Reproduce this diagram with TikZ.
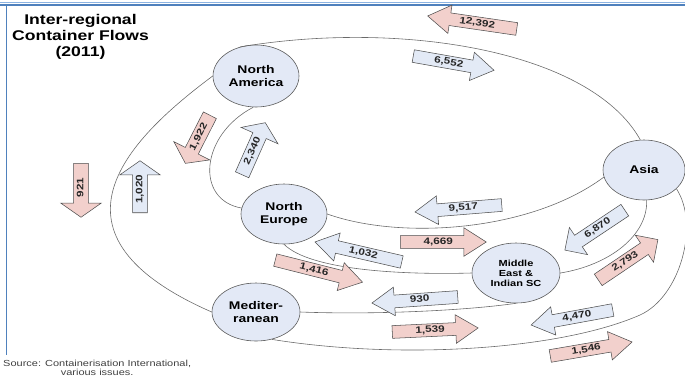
\documentclass[tikz,border=0pt]{standalone}
\usepackage{fontspec}
\setmainfont[FakeStretch=1.25]{Liberation Sans}
\usetikzlibrary{positioning}
\usetikzlibrary{shapes.geometric,shapes.arrows}
\newcommand{\PX}{0.03cm}
\newcommand{\LONGHEAD}{6.8pt}
\newcommand{\MIDHEAD}{8pt}
\newcommand{\SHORTHEAD}{11pt}
\definecolor{regionfill}{RGB}{227,233,246}
\definecolor{pinkfill}{RGB}{242,208,204}
\definecolor{bluefill}{RGB}{227,234,246}
\definecolor{linkgray}{RGB}{105,105,105}
\definecolor{framelight}{RGB}{141,180,226}
\definecolor{framedark}{RGB}{79,129,189}

\begin{document}
\begin{tikzpicture}[x=\PX,y=-\PX]
\tikzstyle{region}=[ellipse, draw=gray!70!black, line width=0.5pt, fill=regionfill, align=center, inner sep=0pt, font=\fontsize{9.5}{10.5}\selectfont\bfseries]
\tikzstyle{link}=[draw=linkgray, line width=0.5pt]
\tikzstyle{flow}=[single arrow, draw=gray!60!black, line width=0.45pt, font=\fontsize{8}{9}\selectfont\bfseries, text=black!85, text height=5.8pt, text depth=1.6pt, inner xsep=2pt, inner ysep=1.5pt, single arrow head indent=0pt, single arrow head extend=\LONGHEAD, single arrow tip angle=65, anchor=tail]
\tikzstyle{shortflow}=[flow, inner ysep=2.3pt, single arrow head extend=\SHORTHEAD, single arrow tip angle=110]
\tikzstyle{midflow}=[flow, inner ysep=2pt, single arrow head extend=\MIDHEAD, single arrow tip angle=90]
\tikzstyle{pinkflow}=[fill=pinkfill]
\tikzstyle{blueflow}=[fill=bluefill]
\tikzstyle{westward}=[shape border rotate=180]
\useasboundingbox (0,0) rectangle (685,380);

% Frame
	\draw[framelight, line width=1.3pt] (0,2.5) -- (685,2.5);
	\draw[framedark, line width=1.3pt] (0,5) -- (685,5);
	\draw[framedark, line width=1.3pt] (6.5,5) -- (6.5,355);

% Title
	\node[font=\fontsize{12}{13.7}\selectfont\bfseries, align=center] (title) at (80.5,37) {Inter-regional\\Container Flows\\(2011)};

% Regions
	\node[region, minimum width=86*\PX, minimum height=62*\PX] (na) at (256,76) {North\\America};
	\node[region, minimum width=86*\PX, minimum height=60*\PX] (ne) at (284,214) {North\\Europe};
	\node[region, minimum width=82*\PX, minimum height=60*\PX] (asia) at (644,170) {Asia};
	\node[region, minimum width=88*\PX, minimum height=60*\PX, font=\fontsize{7.5}{8.6}\selectfont\bfseries] (me) at (516,273) {Middle\\East \&\\Indian SC};
	\node[region, minimum width=88*\PX, minimum height=58*\PX] (med) at (256,312) {Mediter-\\ranean};

% Links
	\draw[link] (asia.97) .. controls (590,50) and (400,20) .. (na.119);
	\draw[link] (na.180) .. controls (124,142) and (36,235) .. (med.180);
	\draw[link] (na.265) .. controls (200,135) and (195,200) .. (ne.172);
	\draw[link] (ne.east) .. controls (400,240) and (530,232) .. (asia.190);
	\draw[link] (ne.south) .. controls (310,270) and (400,275) .. (me.west);
	\draw[link] (me.east) .. controls (610,265) and (648,235) .. (asia.275);
	\draw[link] (med.east) .. controls (380,315) and (470,310) .. (me.south);
	\draw[link] (med.300) .. controls (400,360) and (560,350) .. (640,315) .. controls (680,297) and (700,225) .. (asia.330);

% Flows
	\node[flow, pinkflow, westward, rotate=-8.3, minimum height=90*\PX] (f12392) at (517,29) {12,392};
	\node[flow, blueflow, rotate=-10, minimum height=82*\PX] (f6552) at (413,56) {6,552};
	\node[shortflow, pinkflow, westward, rotate=63, minimum height=54*\PX] (f1922) at (210,115) {1,922};
	\node[shortflow, blueflow, rotate=66, minimum height=57*\PX] (f2340) at (242,175) {2,340};
	\node[shortflow, pinkflow, westward, rotate=90, minimum height=54*\PX] (f921) at (81,163) {921};
	\node[shortflow, blueflow, rotate=90, minimum height=52*\PX] (f1020) at (140,213) {1,020};
	\node[flow, blueflow, westward, rotate=4.6, minimum height=87*\PX] (f9517) at (502,205) {9,517};
	\node[flow, pinkflow, minimum height=86*\PX] (f4669) at (400,242) {4,669};
	\node[flow, blueflow, westward, rotate=-13, minimum height=89*\PX] (f1032) at (402,262) {1,032};
	\node[flow, pinkflow, rotate=-14.2, minimum height=90*\PX] (f1416) at (275,260) {1,416};
	\node[flow, blueflow, westward, rotate=4, minimum height=86*\PX] (f930) at (458,297) {930};
	\node[flow, pinkflow, rotate=2.7, minimum height=86*\PX] (f1539) at (392,332) {1,539};
	\node[flow, blueflow, westward, rotate=10.4, minimum height=83*\PX] (f4470) at (613,310) {4,470};
	\node[flow, pinkflow, rotate=9.7, minimum height=83*\PX] (f1546) at (550,356) {1,546};
	\node[midflow, pinkflow, rotate=34, minimum height=72*\PX] (f2793) at (598,280) {2,793};
	\node[midflow, blueflow, westward, rotate=33.7, minimum height=72*\PX] (f6870) at (625,210) {6,870};

% Source
	\node[font=\fontsize{7.5}{9}\selectfont, text=black!75, anchor=base west, inner sep=0pt] (src) at (3,366) {Source: Containerisation International,};
	\node[font=\fontsize{7.5}{9}\selectfont, text=black!75, inner sep=0pt, below=1pt of src] (src2) {various issues.};

\end{tikzpicture}
\end{document}
